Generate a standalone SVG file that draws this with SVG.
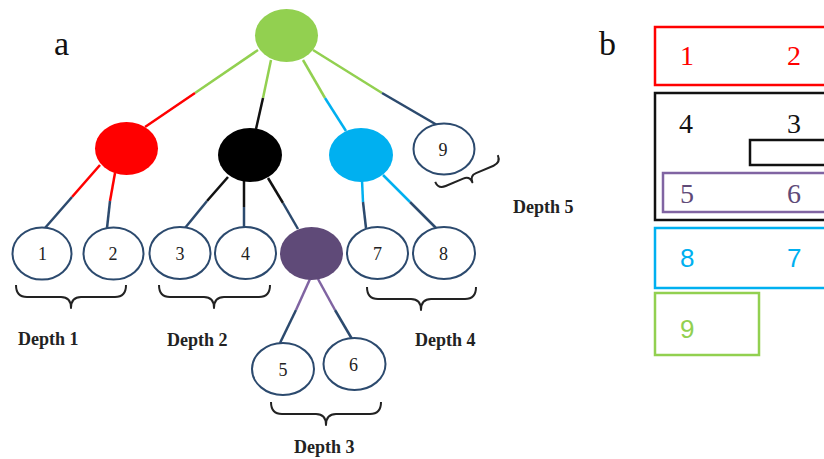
<svg xmlns="http://www.w3.org/2000/svg" width="824" height="459" viewBox="0 0 824 459">
  <style>
    .leaf { fill: #ffffff; stroke: #2c4a6e; stroke-width: 2; }
    .num { font-family: "Liberation Serif", serif; font-size: 18px; fill: #222; text-anchor: middle; }
    .depth { font-family: "Liberation Serif", serif; font-size: 18px; font-weight: bold; fill: #222; }
    .panel { font-family: "Liberation Serif", serif; font-size: 34px; fill: #111; }
    .brace { fill: none; stroke: #222; stroke-width: 2; stroke-linejoin: round; }
    .edge { fill: none; stroke-width: 2.5; }
    .g { stroke: #92d050; } .r { stroke: #ff0000; } .k { stroke: #111; }
    .b { stroke: #00b0f0; } .p { stroke: #8064a2; } .n { stroke: #2c4a6e; }
    .box { fill: none; stroke-width: 2.5; }
    .big { font-family: "Liberation Serif", serif; font-size: 28px; }
    .bigs { font-family: "Liberation Sans", sans-serif; font-size: 26px; }
  </style>

  <!-- panel letters -->
  <text class="panel" x="54" y="55">a</text>
  <text class="panel" x="599" y="55">b</text>

  <!-- connectors: upper half in the parent's colour, lower half dark blue -->
  <g id="connectors">
    <line class="edge g" x1="258" y1="50" x2="195" y2="93"/>
    <line class="edge r" x1="195" y1="93" x2="145" y2="127"/>
    <line class="edge g" x1="271" y1="60" x2="263" y2="98"/>
    <line class="edge k" x1="263" y1="98" x2="256" y2="129"/>
    <line class="edge g" x1="303" y1="60" x2="325" y2="98"/>
    <line class="edge b" x1="325" y1="98" x2="346" y2="131"/>
    <line class="edge g" x1="313" y1="50" x2="382" y2="93"/>
    <line class="edge n" x1="382" y1="93" x2="437" y2="125"/>

    <line class="edge r" x1="100" y1="165" x2="72" y2="197"/>
    <line class="edge n" x1="72" y1="197" x2="45" y2="228"/>
    <line class="edge r" x1="115" y1="173" x2="110" y2="201"/>
    <line class="edge n" x1="110" y1="201" x2="107" y2="228"/>

    <line class="edge k" x1="228" y1="177" x2="207" y2="201"/>
    <line class="edge n" x1="207" y1="201" x2="185" y2="228"/>
    <line class="edge k" x1="244" y1="180" x2="244" y2="207"/>
    <line class="edge n" x1="244" y1="207" x2="244" y2="228"/>
    <line class="edge k" x1="268" y1="178" x2="283" y2="203"/>
    <line class="edge n" x1="283" y1="203" x2="298" y2="229"/>

    <line class="edge b" x1="362" y1="180" x2="363" y2="202"/>
    <line class="edge n" x1="363" y1="202" x2="366" y2="228"/>
    <line class="edge b" x1="383" y1="175" x2="410" y2="202"/>
    <line class="edge n" x1="410" y1="202" x2="437" y2="229"/>

    <line class="edge p" x1="310" y1="279" x2="296" y2="310"/>
    <line class="edge n" x1="296" y1="310" x2="280" y2="343"/>
    <line class="edge p" x1="318" y1="279" x2="335" y2="310"/>
    <line class="edge n" x1="335" y1="310" x2="352" y2="339"/>
  </g>

  <!-- tree nodes -->
  <g id="root"><ellipse cx="286.5" cy="35.5" rx="31.5" ry="26.5" fill="#92d050"/></g>
  <g id="red"><ellipse cx="126.5" cy="148.5" rx="31.5" ry="26.5" fill="#ff0000"/></g>
  <g id="black"><ellipse cx="250" cy="155" rx="32" ry="27" fill="#000000"/></g>
  <g id="blue"><ellipse cx="361" cy="155" rx="32" ry="27" fill="#00b0f0"/></g>
  <g id="purple"><ellipse cx="311.5" cy="253.5" rx="31.5" ry="26.5" fill="#5f4a78"/></g>

  <g id="n9"><ellipse class="leaf" cx="444" cy="149" rx="30.5" ry="25.5"/><text class="num" x="443" y="156">9</text></g>
  <g id="n1"><ellipse class="leaf" cx="42" cy="253.5" rx="29.5" ry="26"/><text class="num" x="42.5" y="260">1</text></g>
  <g id="n2"><ellipse class="leaf" cx="113.5" cy="253.5" rx="30" ry="26"/><text class="num" x="113" y="260">2</text></g>
  <g id="n3"><ellipse class="leaf" cx="180" cy="253" rx="30.5" ry="26"/><text class="num" x="180" y="260">3</text></g>
  <g id="n4"><ellipse class="leaf" cx="245.5" cy="253" rx="30.5" ry="26"/><text class="num" x="245.5" y="260">4</text></g>
  <g id="n7"><ellipse class="leaf" cx="377.5" cy="253" rx="30.5" ry="26"/><text class="num" x="377.5" y="260">7</text></g>
  <g id="n8"><ellipse class="leaf" cx="444" cy="253" rx="31" ry="26"/><text class="num" x="443.5" y="260">8</text></g>
  <g id="n5"><ellipse class="leaf" cx="283" cy="369" rx="31" ry="26"/><text class="num" x="283" y="376">5</text></g>
  <g id="n6"><ellipse class="leaf" cx="354.5" cy="364" rx="31" ry="26"/><text class="num" x="353.5" y="371">6</text></g>

  <!-- depth braces -->
  <path class="brace" d="M16,285 Q16,297 27,297 L61,297 Q71,297 71,308 Q71,297 81,297 L115,297 Q126,297 126,285"/>
  <path class="brace" d="M159,285 Q159,297 170,297 L204,297 Q214,297 214,308 Q214,297 224,297 L259,297 Q270,297 270,285"/>
  <path class="brace" d="M271,402 Q271,414 282,414 L316,414 Q326,414 326,425 Q326,414 336,414 L370,414 Q381,414 381,402"/>
  <path class="brace" d="M367,287 Q367,299 378,299 L411,299 Q421,299 421,310 Q421,299 431,299 L465,299 Q476,299 476,287"/>
  <path class="brace" transform="translate(466.5,168.5) rotate(-23)" d="M-34,0 Q-34,8 -26,8 L-7,8 Q0,8 0,15 Q0,8 7,8 L26,8 Q34,8 34,0"/>

  <text class="depth" x="18" y="345">Depth 1</text>
  <text class="depth" x="167" y="346">Depth 2</text>
  <text class="depth" x="294" y="453">Depth 3</text>
  <text class="depth" x="415" y="346">Depth 4</text>
  <text class="depth" x="513" y="213">Depth 5</text>

  <!-- nested boxes of panel b -->
  <g id="box12">
    <rect class="box" x="655" y="27" width="180" height="58" stroke="#ff0000"/>
    <text class="big" x="680" y="65" fill="#ff0000">1</text>
    <text class="big" x="787" y="65" fill="#ff0000">2</text>
  </g>
  <g id="box43">
    <rect class="box" x="655" y="93" width="180" height="127" stroke="#111"/>
    <text class="big" x="679" y="133" fill="#111">4</text>
    <text class="big" x="787" y="133" fill="#111">3</text>
    <rect class="box" x="750" y="140" width="90" height="25" stroke="#111" stroke-width="2"/>
  </g>
  <g id="box56">
    <rect class="box" x="663" y="173" width="180" height="39" stroke="#8064a2" stroke-width="2"/>
    <text class="big" x="680" y="203" fill="#5f4a78">5</text>
    <text class="big" x="787" y="203" fill="#5f4a78">6</text>
  </g>
  <g id="box87">
    <rect class="box" x="655" y="228" width="180" height="60" stroke="#00b0f0"/>
    <text class="bigs" x="680" y="267" fill="#00b0f0">8</text>
    <text class="bigs" x="787" y="267" fill="#00b0f0">7</text>
  </g>
  <g id="box9">
    <rect class="box" x="655" y="293" width="104" height="62" stroke="#92d050" stroke-width="2"/>
    <text class="bigs" x="680" y="338" fill="#92d050">9</text>
  </g>
</svg>
